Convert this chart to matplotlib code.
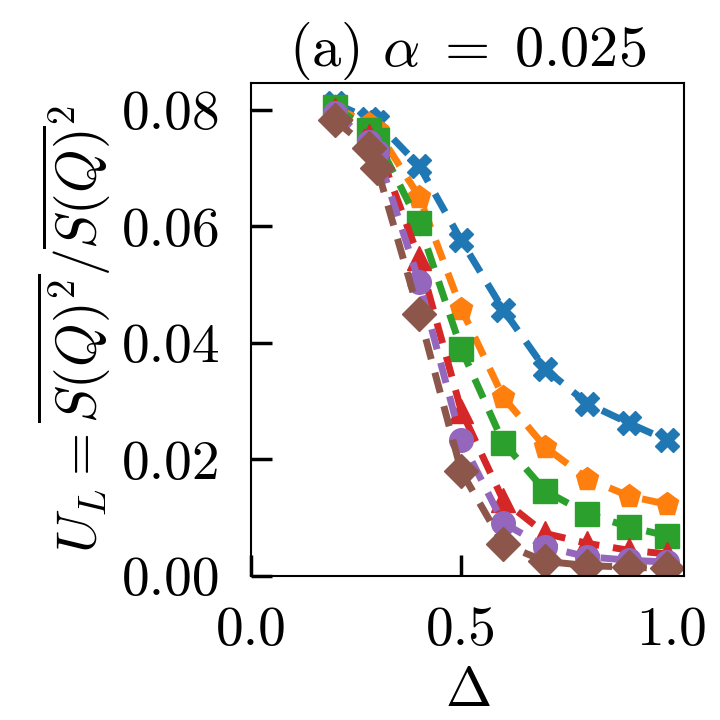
import matplotlib
matplotlib.use("Agg")
import matplotlib.pyplot as plt

# data
delta = [0.2, 0.28, 0.3, 0.4, 0.5, 0.6, 0.7, 0.8, 0.9, 0.99]
u_blue = [0.0811, 0.0785, 0.0779, 0.0704, 0.0576, 0.0457, 0.0355, 0.0296, 0.0262, 0.0233]
u_orange = [0.0805, 0.0775, 0.0765, 0.0651, 0.0459, 0.0307, 0.0221, 0.0167, 0.0137, 0.0123]
u_green = [0.0805, 0.0765, 0.0748, 0.0605, 0.0390, 0.0229, 0.0146, 0.0107, 0.0084, 0.0069]
u_red = [0.0800, 0.0755, 0.0740, 0.0545, 0.0284, 0.0130, 0.0073, 0.0056, 0.0044, 0.0038]
u_purple = [0.0795, 0.0745, 0.0727, 0.0505, 0.0233, 0.0091, 0.0050, 0.0033, 0.0027, 0.0024]
u_brown = [0.0782, 0.0734, 0.0700, 0.0450, 0.0180, 0.0055, 0.0025, 0.0018, 0.0015, 0.0013]

series = [u_blue, u_orange, u_green, u_red, u_purple, u_brown]
markers = ['X', 'p', 's', '^', 'o', 'D']
colors = ['tab:blue', 'tab:orange', 'tab:green', 'tab:red', 'tab:purple', 'tab:brown']

plt.rcParams['font.family'] = 'serif'
plt.rcParams['font.serif'] = ['cmr10']
plt.rcParams['mathtext.fontset'] = 'cm'
plt.rcParams['axes.formatter.use_mathtext'] = True

fig = plt.figure(figsize=(7.2, 7.2), dpi=100)
ax = fig.add_axes([0.3486, 0.2, 0.6014, 0.6847])

for y, m, c in zip(series, markers, colors):
    ax.plot(delta, y, linestyle='--', marker=m, color=c, lw=5, ms=17,
            dashes=(3, 2))

ax.set_xlim(0, 1.03)
ax.set_ylim(0, 0.0846)
ax.set_xticks([0.0, 0.5, 1.0])
ax.set_yticks([0.0, 0.02, 0.04, 0.06, 0.08])
ax.set_xticklabels(['0.0', '0.5', '1.0'])
ax.set_yticklabels(['0.00', '0.02', '0.04', '0.06', '0.08'])
ax.tick_params(direction='in', length=15, width=2.5, labelsize=40, pad=22)
for s in ax.spines.values():
    s.set_linewidth(1.5)

ax.set_xlabel(r'$\Delta$', fontsize=40, labelpad=8)
ax.set_ylabel(r'$U_L = \overline{S(Q)^2}/\overline{S(Q)}^2$', fontsize=40, labelpad=6)
ax.set_title(r'(a) $\alpha\;=\;0.025$', fontsize=42, pad=12)

fig.savefig('out.png', dpi=100)
